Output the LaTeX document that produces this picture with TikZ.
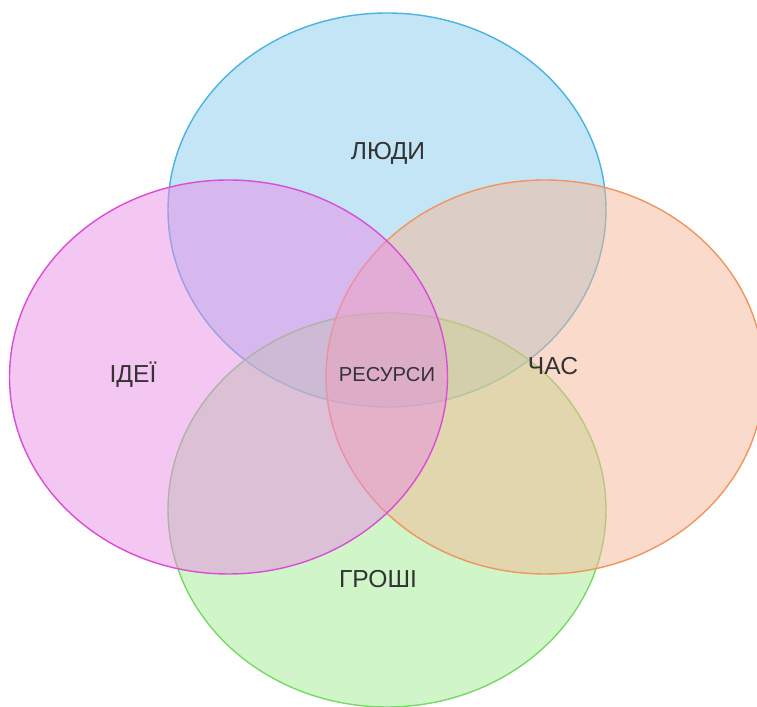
\documentclass[tikz,border=0pt]{standalone}
\usepackage{fontspec}
\setmainfont{Liberation Sans}
\usetikzlibrary{shapes.geometric}
\definecolor{bluefill}{HTML}{8ACBEE}
\definecolor{blueline}{HTML}{4AB3E0}
\definecolor{pinkfill}{HTML}{E98DE5}
\definecolor{pinkline}{HTML}{D94ED4}
\definecolor{orangefill}{HTML}{F5B797}
\definecolor{orangeline}{HTML}{F0955E}
\definecolor{greenfill}{HTML}{9FEB93}
\definecolor{greenline}{HTML}{7AD86A}
\definecolor{labeltext}{HTML}{333333}
\tikzset{
  circ/.style={ellipse, minimum width=8.76cm, minimum height=7.88cm, inner sep=0pt,
    fill opacity=0.5, line width=0.8pt},
  lbl/.style={text=labeltext, font=\fontsize{14}{16}\selectfont},
  small/.style={text=labeltext, font=\fontsize{11.5}{13}\selectfont}
}
\begin{document}
\begin{tikzpicture}
      \useasboundingbox (0,0) rectangle (15.14,14.14);
      \node[circ, draw=blueline, fill=bluefill] (top) at (7.74,9.94) {};
      \node[circ, draw=greenline, fill=greenfill] (bottom) at (7.74,3.94) {};
      \node[circ, draw=orangeline, fill=orangefill] (right) at (10.9,6.6) {};
      \node[circ, draw=pinkline, fill=pinkfill] (left) at (4.57,6.6) {};
      \begin{scope}[lbl]
        \node (people) at (7.76,11.08) {ЛЮДИ};
        \node (ideas) at (2.66,6.64) {ІДЕЇ};
        \node (time) at (11.06,6.82) {ЧАС};
        \node (money) at (7.56,2.56) {ГРОШІ};
      \end{scope}
      \node[small] (res) at (7.74,6.64) {РЕСУРСИ};
    \end{tikzpicture}
\end{document}
